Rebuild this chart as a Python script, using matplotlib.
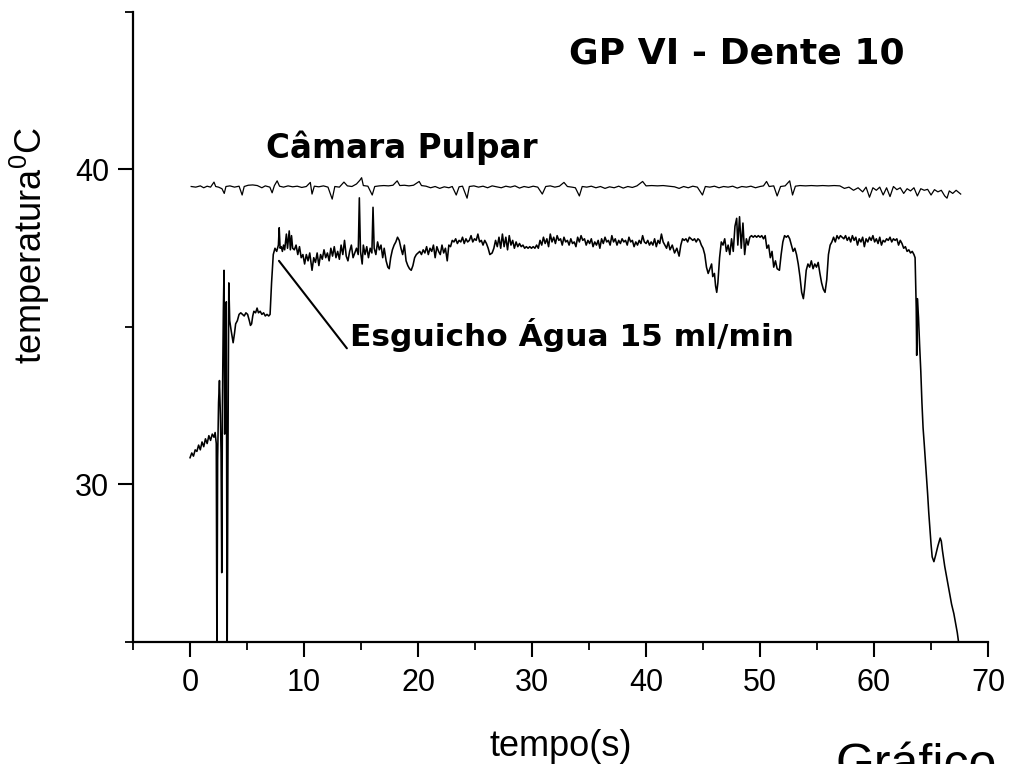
import matplotlib

matplotlib.use("Agg")
import matplotlib.pyplot as plt
from matplotlib.ticker import MultipleLocator

# Câmara Pulpar (upper trace)
pulp_t = [
    0.1, 0.5, 0.9, 1.2, 1.5, 1.8, 2.1, 2.25, 2.5, 2.8, 3.0, 3.15, 3.5, 3.9, 4.3, 4.57, 4.75, 5.1, 5.5, 5.9,
    6.3, 6.6, 7.0, 7.2, 7.4, 7.64, 7.85, 8.2, 8.6, 9.0, 9.4, 9.8, 10.2, 10.55, 10.7, 10.9, 11.3, 11.7, 12.1, 12.47,
    12.7, 13.1, 13.5, 13.8, 14.2, 14.6, 14.9, 15.05, 15.2, 15.6, 15.98, 16.2, 16.6, 17.0, 17.4, 17.8, 18.17, 18.4,
    18.8, 19.2, 19.6, 20.1, 20.3, 20.7, 21.1, 21.5, 21.9, 22.3, 22.7, 23.0, 23.35, 23.6, 23.9, 24.3, 24.5, 24.9,
    25.3, 25.7, 26.1, 26.5, 26.9, 27.3, 27.7, 28.1, 28.5, 28.9, 29.3, 29.7, 30.1, 30.5, 30.9, 31.2, 31.6, 32.0,
    32.4, 32.8, 33.1, 33.5, 33.8, 34.15, 34.4, 34.8, 35.2, 35.6, 36.0, 36.4, 36.8, 37.2, 37.6, 38.0, 38.4, 38.8,
    39.2, 39.7, 40.0, 40.5, 41.0, 41.5, 42.0, 42.5, 42.9, 43.3, 43.7, 44.1, 44.5, 44.95, 45.2, 45.6, 46.0, 46.4,
    46.8, 47.2, 47.6, 48.0, 48.4, 48.8, 49.2, 49.6, 50.0, 50.3, 50.57, 50.8, 51.2, 51.5, 51.8, 52.2, 52.6, 52.85,
    53.1, 53.5, 54.0, 54.5, 55.0, 55.5, 56.0, 56.5, 57.0, 57.4, 57.8, 58.2, 58.6, 59.0, 59.3, 59.6, 59.9, 60.2,
    60.5, 60.8, 61.1, 61.4, 61.7, 62.0, 62.3, 62.6, 62.9, 63.2, 63.5, 63.8, 64.1, 64.4, 64.7, 65.0, 65.3, 65.6,
    65.9, 66.2, 66.4, 66.6, 66.9, 67.2, 67.6,
]
pulp_temp = [
    39.46, 39.44, 39.48, 39.42, 39.47, 39.44, 39.60, 39.46, 39.44, 39.39, 39.24, 39.46, 39.48, 39.44, 39.47, 39.19,
    39.46, 39.50, 39.51, 39.49, 39.42, 39.48, 39.44, 39.26, 39.49, 39.64, 39.47, 39.44, 39.48, 39.45, 39.47, 39.43,
    39.46, 39.59, 39.22, 39.47, 39.45, 39.48, 39.44, 39.06, 39.46, 39.44, 39.60, 39.48, 39.46, 39.54, 39.66, 39.74,
    39.49, 39.47, 39.19, 39.46, 39.48, 39.49, 39.48, 39.50, 39.64, 39.49, 39.50, 39.48, 39.50, 39.62, 39.49, 39.47,
    39.42, 39.46, 39.40, 39.45, 39.42, 39.46, 39.19, 39.45, 39.47, 39.09, 39.46, 39.48, 39.44, 39.47, 39.42, 39.48,
    39.45, 39.42, 39.47, 39.44, 39.48, 39.41, 39.46, 39.43, 39.47, 39.44, 39.22, 39.46, 39.48, 39.44, 39.47, 39.59,
    39.46, 39.44, 39.42, 39.16, 39.46, 39.44, 39.47, 39.42, 39.46, 39.40, 39.45, 39.42, 39.47, 39.41, 39.46, 39.43,
    39.48, 39.62, 39.48, 39.49, 39.48, 39.49, 39.47, 39.45, 39.40, 39.46, 39.42, 39.47, 39.44, 39.19, 39.46, 39.44,
    39.47, 39.42, 39.46, 39.44, 39.47, 39.41, 39.46, 39.44, 39.47, 39.42, 39.46, 39.48, 39.62, 39.46, 39.48, 39.16,
    39.46, 39.48, 39.64, 39.19, 39.47, 39.49, 39.48, 39.49, 39.48, 39.49, 39.48, 39.49, 39.48, 39.40, 39.44, 39.34,
    39.42, 39.29, 39.44, 39.12, 39.42, 39.34, 39.44, 39.19, 39.42, 39.14, 39.46, 39.36, 39.42, 39.24, 39.39, 39.32,
    39.42, 39.16, 39.39, 39.34, 39.37, 39.19, 39.36, 39.29, 39.34, 39.16, 39.09, 39.32, 39.24, 39.34, 39.22,
]

# Esguicho Água 15 ml/min (lower trace)
spray_t = [
    0.0, 0.15, 0.3, 0.45, 0.6, 0.75, 0.9, 1.05, 1.2, 1.35, 1.5, 1.65, 1.8, 1.95, 2.1, 2.2, 2.3,
    2.36, 2.42, 2.5, 2.58, 2.66, 2.72, 2.78, 2.84, 2.92, 2.98, 3.04, 3.1, 3.18, 3.25, 3.32, 3.4, 3.48, 3.6,
    3.78, 3.9, 4.0, 4.15, 4.3, 4.45, 4.6, 4.75, 4.9, 5.05, 5.2, 5.3, 5.4, 5.5, 5.6, 5.75, 5.88, 6.0, 6.15,
    6.3, 6.45, 6.6, 6.75, 6.9, 7.02,
    7.15, 7.3, 7.45, 7.6, 7.75, 7.82, 7.9, 8.0, 8.1, 8.2, 8.3, 8.45, 8.55, 8.7, 8.8, 8.9, 9.0, 9.15, 9.3,
    9.45, 9.6, 9.75, 9.9, 10.05, 10.2, 10.35, 10.5, 10.7, 10.85, 11.0, 11.15, 11.3, 11.45, 11.6, 11.75,
    11.9, 12.05, 12.2, 12.35, 12.5, 12.65, 12.8, 12.95, 13.1, 13.25, 13.4, 13.55, 13.7, 13.85, 14.0, 14.15,
    14.3, 14.45, 14.6, 14.75, 14.85, 14.95, 15.1, 15.2, 15.35, 15.5, 15.65, 15.8, 15.95, 16.05, 16.15, 16.3,
    16.45, 16.6, 16.75, 16.9, 17.03, 17.2, 17.35, 17.47, 17.6, 17.75, 17.9, 18.05, 18.2, 18.35, 18.5, 18.65,
    18.8, 18.95, 19.1, 19.25, 19.4, 19.55, 19.7, 19.85, 20.0, 20.15, 20.3, 20.45, 20.6, 20.75, 20.9, 21.05,
    21.2, 21.35, 21.5, 21.65, 21.8, 21.95, 22.1, 22.25, 22.4, 22.56, 22.7, 22.85, 23.0, 23.15, 23.3, 23.45,
    23.6, 23.75, 23.9, 24.05, 24.2, 24.35, 24.5, 24.65, 24.8, 24.95, 25.1, 25.25, 25.4, 25.55, 25.7, 25.85,
    26.0, 26.15, 26.3, 26.5, 26.65, 26.8, 26.95, 27.1, 27.25, 27.4, 27.55, 27.7, 27.85, 28.0, 28.15, 28.3,
    28.45, 28.6, 28.75, 28.9, 29.05, 29.2, 29.35, 29.5, 29.65, 29.8, 29.95, 30.1, 30.25, 30.4, 30.55, 30.7,
    30.85, 31.0, 31.15, 31.3, 31.45, 31.6, 31.75, 31.9, 32.05, 32.2, 32.35, 32.5, 32.65, 32.8, 32.95, 33.1,
    33.25, 33.4, 33.55, 33.7, 33.85, 34.0, 34.15, 34.3, 34.45, 34.6, 34.75, 34.9, 35.05, 35.2, 35.35, 35.5,
    35.65, 35.8, 35.95, 36.1, 36.25, 36.4, 36.55, 36.7, 36.85, 37.0, 37.15, 37.3, 37.45, 37.6, 37.75, 37.9,
    38.05, 38.2, 38.35, 38.5, 38.65, 38.8, 38.95, 39.1, 39.25, 39.4, 39.55, 39.7, 39.85, 40.0, 40.15, 40.3,
    40.45, 40.6, 40.75, 40.9, 41.05, 41.2, 41.35, 41.5, 41.65, 41.8, 41.95, 42.1, 42.3, 42.5, 42.7, 42.9,
    43.05, 43.2, 43.35, 43.5, 43.65, 43.8, 43.95, 44.1, 44.25, 44.4, 44.55, 44.7, 44.85, 45.0, 45.15, 45.3,
    45.45, 45.6, 45.75, 45.85, 46.0, 46.1, 46.2, 46.3, 46.45, 46.6, 46.75, 46.9, 47.05, 47.2, 47.35, 47.5,
    47.65, 47.8, 47.95, 48.05, 48.2, 48.35, 48.5, 48.65, 48.8, 48.95, 49.1, 49.25, 49.4, 49.55, 49.7, 49.85,
    50.0, 50.15, 50.3, 50.45, 50.6, 50.75, 50.9, 51.05, 51.2, 51.35, 51.5, 51.7, 51.85, 52.0, 52.15, 52.3,
    52.45, 52.6, 52.75, 52.9, 53.05, 53.2, 53.35, 53.5, 53.65, 53.8, 53.9, 54.05, 54.2, 54.35, 54.5, 54.65,
    54.8, 54.95, 55.1, 55.25, 55.4, 55.55, 55.7, 55.85, 56.0, 56.15, 56.3, 56.45, 56.6, 56.75, 56.9, 57.05,
    57.2, 57.35, 57.5, 57.65, 57.8, 57.95, 58.1, 58.25, 58.4, 58.55, 58.7, 58.85, 59.0, 59.15, 59.3, 59.45,
    59.6, 59.75, 59.9, 60.05, 60.2, 60.35, 60.5, 60.65, 60.8, 60.95, 61.1, 61.25, 61.4, 61.55, 61.7, 61.85,
    62.0, 62.15, 62.3, 62.45, 62.6, 62.75, 62.9, 63.05, 63.2, 63.35, 63.5, 63.6,
    63.7, 63.74, 63.8, 63.9, 64.0, 64.1, 64.2, 64.3, 64.4, 64.55, 64.7, 64.8, 64.9, 65.0, 65.1, 65.25,
    65.4, 65.6, 65.8, 65.9, 66.0, 66.2, 66.4, 66.6, 66.8, 67.0, 67.15, 67.3, 67.45,
]
spray_temp = [
    30.85, 31.00, 30.90, 31.10, 31.05, 31.25, 31.10, 31.35, 31.20, 31.45, 31.30, 31.55, 31.40, 31.60, 31.50,
    31.65, 31.30,
    24.00, 30.80, 32.60, 33.30, 32.20, 31.00, 27.20, 32.50, 35.50, 36.80, 31.60, 34.80, 35.80, 24.00, 30.50,
    36.40, 35.20, 34.90,
    34.50, 34.80, 35.10, 35.20, 35.40, 35.45, 35.40, 35.35, 35.45, 35.40, 35.20, 35.05, 35.10, 35.35, 35.50,
    35.45, 35.60, 35.45, 35.50, 35.40, 35.45, 35.35, 35.40, 35.35, 35.40,
    36.40, 37.30, 37.50, 37.40, 37.60, 38.15, 37.50, 37.55, 37.40, 37.60, 37.45, 37.95, 37.50, 38.05, 37.45,
    37.90, 37.50, 37.45, 37.60, 37.30, 37.55, 37.20, 37.30, 37.00, 37.30, 37.10, 37.35, 36.80, 37.20, 37.05,
    37.35, 36.95, 37.30, 37.15, 37.45, 37.20, 37.35, 37.10, 37.50, 37.25, 37.55, 37.20, 37.40, 37.15, 37.60,
    37.30, 37.75, 37.25, 37.10, 37.40, 37.60, 37.20, 37.35, 37.50, 37.30, 39.10, 37.40, 37.00, 37.60, 37.30,
    37.55, 37.20, 37.50, 37.35, 38.80, 37.50, 37.30, 37.70, 37.45, 37.60, 37.20, 37.50, 37.10, 36.90, 36.85,
    37.20, 37.45, 37.60, 37.70, 37.85, 37.75, 37.50, 37.30, 37.60, 37.10, 36.95, 36.85, 36.80, 36.95, 37.20,
    37.30, 37.35, 37.40, 37.30, 37.45, 37.35, 37.55, 37.30, 37.50, 37.40, 37.60, 37.20, 37.55, 37.40, 37.30,
    37.60, 37.35, 37.50, 37.10, 37.60, 37.55, 37.75, 37.70, 37.80, 37.65, 37.75, 37.70, 37.85, 37.65, 37.80,
    37.70, 37.75, 37.90, 37.70, 37.80, 37.75, 37.95, 37.70, 37.75, 37.60, 37.75, 37.65, 37.50, 37.30, 37.35,
    37.50, 37.75, 37.55, 37.85, 37.50, 37.95, 37.55, 37.85, 37.45, 37.90, 37.60, 37.75, 37.50, 37.70, 37.55,
    37.65, 37.55, 37.60, 37.50, 37.55, 37.50, 37.55, 37.50, 37.55, 37.50, 37.60, 37.50, 37.75, 37.60, 37.85,
    37.65, 37.80, 37.55, 37.95, 37.70, 37.85, 37.65, 37.90, 37.75, 37.80, 37.60, 37.85, 37.70, 37.75, 37.60,
    37.80, 37.65, 37.70, 37.55, 37.85, 37.70, 37.90, 37.75, 37.80, 37.60, 37.75, 37.65, 37.80, 37.55, 37.70,
    37.60, 37.75, 37.50, 37.80, 37.65, 37.85, 37.70, 37.75, 37.60, 37.90, 37.70, 37.80, 37.60, 37.75, 37.65,
    37.80, 37.70, 37.75, 37.60, 37.85, 37.70, 37.75, 37.55, 37.70, 37.60, 37.75, 37.65, 37.90, 37.70, 37.65,
    37.75, 37.60, 37.70, 37.60, 37.80, 37.55, 37.75, 37.65, 37.95, 37.70, 37.60, 37.50, 37.70, 37.45, 37.60,
    37.35, 37.50, 37.25, 37.60, 37.80, 37.75, 37.80, 37.70, 37.85, 37.80, 37.75, 37.80, 37.70, 37.80, 37.75,
    37.60, 37.50, 37.30, 36.90, 36.70, 36.85, 37.00, 36.60, 36.70, 36.30, 36.10, 36.40, 37.20, 37.70, 37.60,
    37.80, 37.40, 37.60, 37.30, 37.80, 37.40, 38.20, 38.45, 37.60, 38.50, 37.50, 38.30, 37.30, 37.80, 37.60,
    37.85, 37.90, 37.85, 37.90, 37.85, 37.90, 37.85, 37.90, 37.80, 37.90, 37.50, 37.60, 37.20, 37.40, 36.90,
    37.10, 36.85, 36.80, 37.30, 37.70, 37.90, 37.85, 37.90, 37.80, 37.60, 37.40, 37.50, 37.30, 37.00, 36.60,
    36.10, 35.90, 36.20, 36.80, 37.00, 36.90, 37.10, 36.85, 37.00, 36.90, 37.05, 36.70, 36.40, 36.20, 36.10,
    36.50, 37.30, 37.60, 37.70, 37.85, 37.70, 37.90, 37.80, 37.90, 37.85, 37.80, 37.90, 37.75, 37.85, 37.70,
    37.90, 37.75, 37.85, 37.60, 37.80, 37.70, 37.85, 37.55, 37.80, 37.70, 37.85, 37.75, 37.90, 37.70, 37.80,
    37.65, 37.85, 37.60, 37.75, 37.70, 37.80, 37.75, 37.85, 37.70, 37.80, 37.75, 37.80, 37.60, 37.75, 37.65,
    37.50, 37.55, 37.40, 37.45, 37.35, 37.40, 37.30, 37.20,
    35.60, 34.10, 35.90, 35.30, 34.40, 33.60, 32.60, 31.80, 31.30, 30.50, 29.70, 29.10, 28.60, 28.10, 27.70,
    27.55, 27.75, 28.05, 28.30, 28.20, 27.90, 27.40, 27.00, 26.60, 26.20, 25.90, 25.60, 25.30, 24.90,
]

x_ticks = [0, 10, 20, 30, 40, 50, 60, 70]

plt.rcParams["font.family"] = ["Liberation Sans", "DejaVu Sans"]
plt.rcParams["mathtext.fontset"] = "custom"
plt.rcParams["mathtext.rm"] = "Liberation Sans"

fig = plt.figure(figsize=(10.11, 7.64), dpi=100)
ax = fig.add_axes([0.1316, 0.1597, 0.8457, 0.8246])

ax.plot(pulp_t, pulp_temp, color="black", lw=0.9)
ax.plot(spray_t, spray_temp, color="black", lw=1.15)

ax.set_xlim(-5, 70)
ax.set_ylim(25, 45)
ax.set_xticks(x_ticks)
ax.xaxis.set_minor_locator(MultipleLocator(5))
ax.yaxis.set_major_locator(MultipleLocator(10))
ax.yaxis.set_minor_locator(MultipleLocator(5))
for side in ("top", "right"):
    ax.spines[side].set_visible(False)
for side in ("left", "bottom"):
    ax.spines[side].set_linewidth(1.6)
ax.tick_params(which="major", direction="out", length=11, width=1.5, labelsize=22)
ax.tick_params(which="minor", direction="out", length=6, width=1.3)
ax.tick_params(axis="x", which="major", pad=8)
ax.tick_params(axis="y", which="major", pad=6)

ax.set_xlabel("tempo(s)", fontsize=26, labelpad=22)
ax.set_ylabel(r"temperatura$^{\mathregular{0}}$C", fontsize=26)
ax.yaxis.set_label_coords(-0.095, 0.63)

bold = ["DejaVu Sans"]
ax.text(0.706, 0.919, "GP VI - Dente 10", transform=ax.transAxes, ha="center", va="baseline",
        fontsize=26, fontweight="bold", family=bold)
ax.text(6.67, 40.35, "Câmara Pulpar", ha="left", va="baseline",
        fontsize=23.5, fontweight="bold", family=bold)
ax.annotate("Esguicho Água 15 ml/min", xy=(7.8, 37.1), xytext=(14.0, 34.4), ha="left", va="baseline",
            fontsize=22.5, fontweight="bold", family=bold,
            arrowprops=dict(arrowstyle="-", color="black", lw=1.5, relpos=(0, 0), shrinkA=0, shrinkB=0))

fig.text(0.826, -0.02, "Gráfico", fontsize=36, va="baseline", ha="left")

fig.savefig("out.png", dpi=100)
